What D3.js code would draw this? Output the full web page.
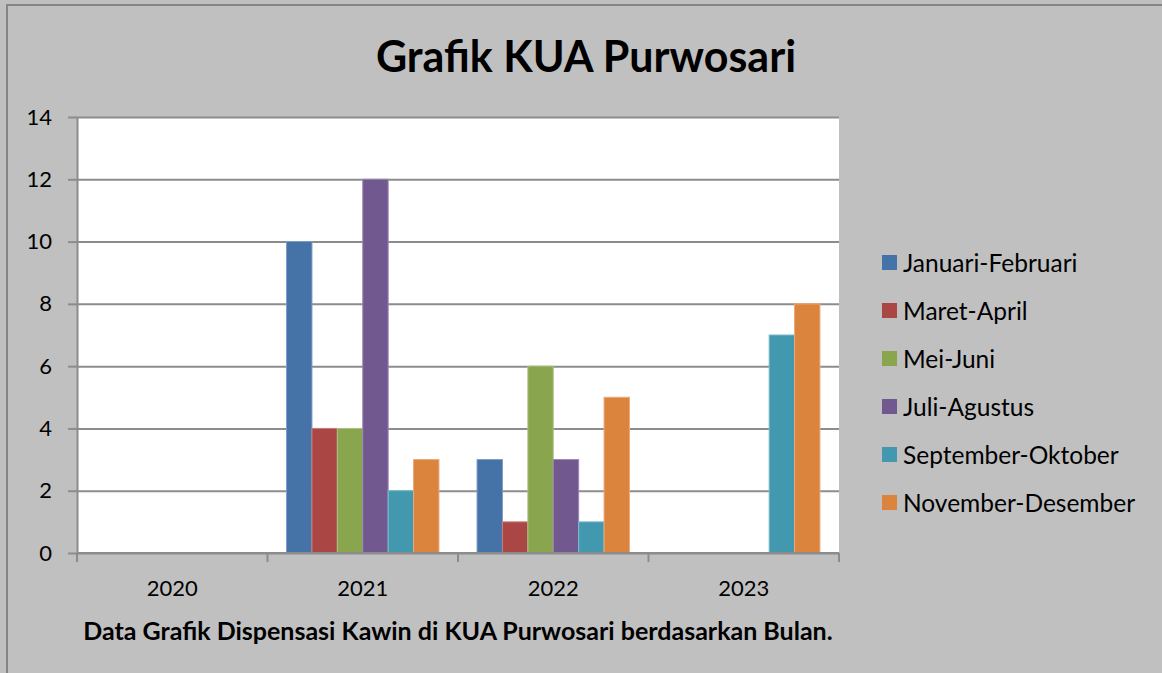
<!DOCTYPE html>
<html>
<head>
<meta charset="utf-8">
<script src="https://cdn.jsdelivr.net/npm/d3@7"></script>
<style>
  html, body { margin: 0; padding: 0; background: #c0c0c0; }
  svg { display: block; font-family: Lato, "Open Sans", sans-serif; }
</style>
</head>
<body>
<svg id="chart" width="1162" height="673"></svg>
<script>
const width = 1162;
const height = 673;

// data
const years = ["2020", "2021", "2022", "2023"];
const periods = ["Januari-Februari", "Maret-April", "Mei-Juni", "Juli-Agustus", "September-Oktober", "November-Desember"];
const janFeb = [0, 10, 3, 0];
const marApr = [0, 4, 1, 0];
const meiJun = [0, 4, 6, 0];
const julAgu = [0, 12, 3, 0];
const sepOkt = [0, 2, 1, 7];
const novDes = [0, 3, 5, 8];
const yTicks = [0, 2, 4, 6, 8, 10, 12, 14];

const seriesValues = [janFeb, marApr, meiJun, julAgu, sepOkt, novDes];
const colors = ["#4572a7", "#aa4643", "#89a54e", "#71588f", "#4198af", "#db843d"];
const strokes = ["#7b9cc4", "#c67f7d", "#adc484", "#9a86b3", "#7bbccc", "#eba97a"];

const margin = { top: 117, left: 77, right: 1162 - 839, bottom: 673 - 553 };
const plotWidth = width - margin.left - margin.right;
const plotHeight = height - margin.top - margin.bottom;

const svg = d3.select("#chart");

// outer frame
svg.append("rect")
  .attr("x", 7).attr("y", 5)
  .attr("width", width + 10).attr("height", height + 10)
  .attr("fill", "#c0c0c0")
  .attr("stroke", "#858585")
  .attr("stroke-width", 2);

/* SCALES */
const x = d3.scaleBand().domain(years).range([0, plotWidth]);
const y = d3.scaleLinear().domain([0, 14]).range([plotHeight, 0]);
// Excel gap width 150%: bar = band / (6 + 1.5)
const inner = d3.scaleBand().domain(d3.range(periods.length))
  .range([0, x.bandwidth()])
  .paddingInner(0)
  .paddingOuter(0.75);

const plot = svg.append("g").attr("transform", "translate(" + margin.left + "," + margin.top + ")");

plot.append("rect")
  .attr("width", plotWidth).attr("height", plotHeight)
  .attr("fill", "#ffffff");

/* GRID */
const grid = plot.append("g")
  .call(d3.axisLeft(y).tickValues(yTicks).tickSize(-plotWidth).tickFormat(""));
grid.select(".domain").remove();
grid.selectAll("line").attr("stroke", "#8c8c8c").attr("stroke-width", 2);

/* BARS */
years.forEach((yr, i) => {
  const g = plot.append("g").attr("transform", "translate(" + x(yr) + ",0)");
  g.selectAll("rect")
    .data(seriesValues.map((s, k) => ({ k: k, v: s[i] })).filter(d => d.v > 0))
    .enter()
    .append("rect")
      .attr("x", d => inner(d.k))
      .attr("y", d => y(d.v))
      .attr("width", inner.bandwidth())
      .attr("height", d => y(0) - y(d.v))
      .attr("fill", d => colors[d.k])
      .attr("stroke", d => strokes[d.k])
      .attr("stroke-width", 1);
});

/* AXES */
const yAxis = plot.append("g")
  .call(d3.axisLeft(y).tickValues(yTicks).tickSize(9).tickPadding(16).tickSizeOuter(0));
yAxis.select(".domain").attr("stroke", "#8c8c8c").attr("stroke-width", 2);
yAxis.selectAll("line").attr("stroke", "#8c8c8c").attr("stroke-width", 2);
yAxis.selectAll("text").attr("font-size", 22).attr("fill", "#000").attr("font-family", "Lato, sans-serif");

const xAxis = plot.append("g").attr("transform", "translate(0," + plotHeight + ")");
xAxis.append("line")
  .attr("x1", 0).attr("x2", plotWidth)
  .attr("stroke", "#8c8c8c").attr("stroke-width", 2);
xAxis.selectAll("line.tick")
  .data(years.map(d => x(d)).concat([plotWidth]))
  .enter()
  .append("line")
    .attr("class", "tick")
    .attr("x1", d => d).attr("x2", d => d)
    .attr("y1", 0).attr("y2", 9)
    .attr("stroke", "#8c8c8c").attr("stroke-width", 2);
xAxis.selectAll("text")
  .data(years)
  .enter()
  .append("text")
    .attr("x", d => x(d) + x.bandwidth() / 2)
    .attr("y", 43)
    .attr("text-anchor", "middle")
    .attr("font-size", 22)
    .text(d => d);

/* TITLES */
svg.append("text")
  .attr("x", 586).attr("y", 72)
  .attr("text-anchor", "middle")
  .attr("font-size", 43)
  .attr("font-weight", "bold")
  .text("Grafik KUA Purwosari");

svg.append("text")
  .attr("x", margin.left + plotWidth / 2).attr("y", 640)
  .attr("text-anchor", "middle")
  .attr("font-size", 25)
  .attr("font-weight", "bold")
  .text("Data Grafik Dispensasi Kawin di KUA Purwosari berdasarkan Bulan.");

/* LEGEND */
const legend = svg.append("g").attr("transform", "translate(882,255)");
const items = legend.selectAll("g")
  .data(periods)
  .enter()
  .append("g")
    .attr("transform", (d, i) => "translate(0," + i * 48 + ")");
items.append("rect")
  .attr("width", 15).attr("height", 15)
  .attr("fill", (d, i) => colors[i]);
items.append("text")
  .attr("x", 21).attr("y", 8)
  .attr("dy", "0.35em")
  .attr("font-size", 24.5)
  .text(d => d);
</script>
</body>
</html>
